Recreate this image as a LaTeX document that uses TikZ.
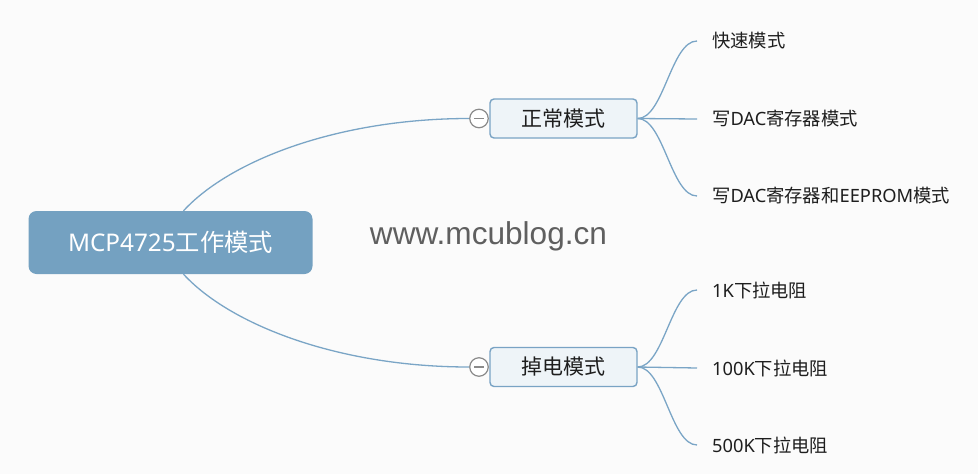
\documentclass[tikz,border=0pt]{standalone}
\usepackage{fontspec}
\setmainfont{Noto Sans}
\newfontfamily\zh{Noto Sans CJK SC}
\newfontfamily\wm{Liberation Sans}
\definecolor{bg}{RGB}{251,251,251}
\definecolor{rootfill}{RGB}{116,161,193}
\definecolor{linec}{RGB}{122,165,198}
\definecolor{boxfill}{RGB}{238,244,248}
\definecolor{boxline}{RGB}{121,163,196}
\definecolor{txt}{RGB}{30,30,30}
\definecolor{wmc}{RGB}{95,95,95}
\definecolor{ccirc}{RGB}{138,138,138}
\begin{document}
\begin{tikzpicture}[x=1pt,y=-1pt,
 rootbox/.style={rectangle, rounded corners=8pt, fill=rootfill, minimum width=284pt, minimum height=63pt, text=white, font=\fontsize{24.3}{28}\selectfont, inner sep=0pt},
 topicbox/.style={rectangle, rounded corners=4pt, fill=boxfill, draw=boxline, line width=1.4pt, minimum width=147pt, minimum height=39pt, text=txt, font=\zh\fontsize{21}{25}\selectfont, inner sep=0pt},
 leaf/.style={anchor=west, inner xsep=15pt, inner ysep=0pt, text=txt, font=\fontsize{18.3}{22}\selectfont},
 conn/.style={draw=linec, line width=1.3pt},
 collapse/.style={circle, draw=ccirc, fill=white, line width=1.2pt, minimum size=18.5pt, inner sep=0pt},
 watermark/.style={font=\wm\fontsize{31.6}{36}\selectfont, text=wmc, inner sep=0pt}
]
\fill[bg] (0,0) rectangle (978,474);

\node[rootbox] (root) at (170.5,242.5) {MCP4725{\zh 工作模式}};
\node[topicbox] (n1) at (563.5,118.5) {正常模式};
\node[topicbox] (n2) at (563.5,367) {掉电模式};
\node[collapse] (c1) at (479,118.5) {};
\node[collapse] (c2) at (479,367) {};
\draw[ccirc, line width=1.2pt] ([xshift=-5pt]c1.center) -- ([xshift=5pt]c1.center);
\draw[ccirc, line width=1.2pt] ([xshift=-5pt]c2.center) -- ([xshift=5pt]c2.center);

\node[leaf] (a1) at (697,41) {{\zh 快速模式}};
\node[leaf] (a2) at (697,119) {{\zh 写}DAC{\zh 寄存器模式}};
\node[leaf] (a3) at (697,196) {{\zh 写}DAC{\zh 寄存器和}EEPROM{\zh 模式}};
\node[leaf] (b1) at (697,290) {1K{\zh 下拉电阻}};
\node[leaf] (b2) at (697,368) {100K{\zh 下拉电阻}};
\node[leaf] (b3) at (697,445) {500K{\zh 下拉电阻}};

\node[watermark] (wm) at (488.5,236) {www.mcublog.cn};

\draw[conn] ([xshift=13pt]root.north) .. controls +(47,-51) and +(-130,0) .. (c1.west);
\draw[conn] ([xshift=13pt]root.south) .. controls +(47,51) and +(-130,0) .. (c2.west);

\draw[conn] (n1.east) .. controls +(26,0) and +(-26,0) .. (a1.west);
\draw[conn] (n1.east) -- (a2.west);
\draw[conn] (n1.east) .. controls +(26,0) and +(-26,0) .. (a3.west);
\draw[conn] (n2.east) .. controls +(26,0) and +(-26,0) .. (b1.west);
\draw[conn] (n2.east) -- (b2.west);
\draw[conn] (n2.east) .. controls +(26,0) and +(-26,0) .. (b3.west);
\end{tikzpicture}
\end{document}
